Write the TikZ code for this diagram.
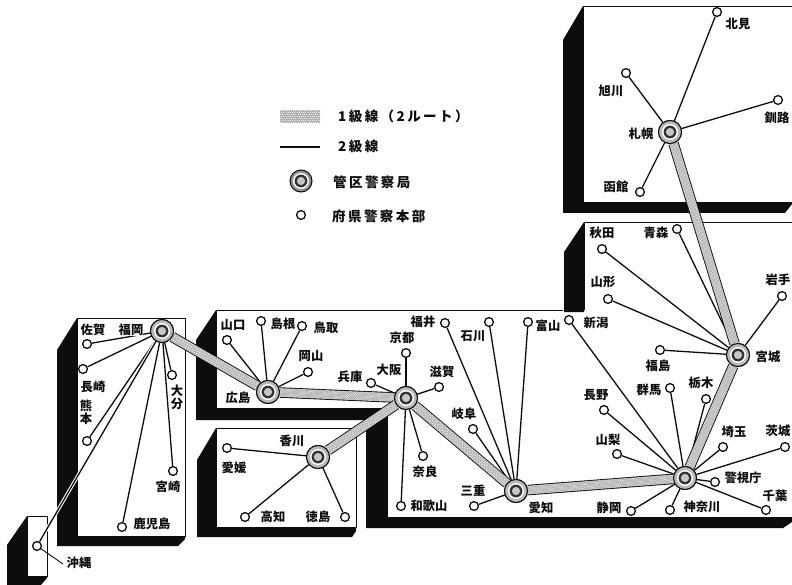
\documentclass[tikz,border=0pt]{standalone}
\usepackage{fontspec}
\setmainfont{Noto Sans CJK JP}
\newfontfamily\legendfont[LetterSpace=18]{Noto Sans CJK JP}
\usetikzlibrary{calc}
\definecolor{ink}{gray}{0.05}
\newcommand{\stipplelink}[3]{%
  \foreach \off/\ph in {-3.6/0,-2.4/1.1,-1.2/0,0/1.1,1.2/0,2.4/1.1,3.6/0}{
    \draw[white!85!gray,line width=0.7bp,dash pattern=on 0.9bp off 1.3bp,dash phase=\ph bp]
      ($(#1)!\off*#3 bp!90:(#2)$) -- ($(#2)!\off*#3 bp!-90:(#1)$);
  }}
\tikzset{
  stn/.style={circle,draw=ink,line width=1.3bp,fill=white,minimum size=8.8bp,inner sep=0pt},
  hub/.style={circle,draw=ink,line width=1bp,fill=gray!55,minimum size=23bp,inner sep=0pt,
    path picture={
      \fill[white] (path picture bounding box.center) circle (8bp);
      \fill[ink!85!white] (path picture bounding box.center) circle (6.4bp);
      \fill[gray!45] (path picture bounding box.center) circle (4.1bp);
    }},
  lab/.style={inner sep=0pt,font=\fontsize{12.3bp}{13bp}\selectfont\bfseries,text=ink,align=center},
  leg/.style={inner sep=0pt,anchor=west,font=\fontsize{13.5bp}{14bp}\selectfont\legendfont\bfseries,text=ink},
  thin link/.style={draw=ink,line width=1.3bp},
  trunkedge/.style={draw=ink,line width=10.5bp},
  trunkfill/.style={draw=gray!60,line width=8.8bp},
  shade/.style={fill=ink,draw=none},
  panel/.style={fill=white,draw=ink,line width=0.9bp}
}
\begin{document}
\begin{tikzpicture}[x=1bp,y=-1bp]
\useasboundingbox (0,0) rectangle (792,585);
\clip (0,0) rectangle (792,585);
\fill[white] (0,0) rectangle (792,585);
% Hokkaido
\fill[shade] (583,6) -- (563,40) -- (563,213) -- (785,213) -- (792,204) -- (792,202) -- (583,202) -- cycle;
\draw[panel] (792,6) -- (583,6) -- (583,202) -- (792,202);
% Honshu
\fill[shade] (584,222) -- (564,252) -- (564,312) -- (584,312) -- cycle;
\fill[shade] (216,310) -- (196,340) -- (196,420) -- (366,420) -- (366,528) -- (783,528) -- (792,522) -- (792,517) -- (387,517) -- (387,408) -- (216,408) -- cycle;
\draw[panel,fill=none] (792,222) -- (584,222) -- (584,310);
\draw[panel,fill=none] (563,310) -- (216,310) -- (216,408) -- (387,408) -- (387,517) -- (792,517);
% Shikoku
\fill[shade] (216,428) -- (197,460) -- (197,537) -- (352,537) -- (356,531) -- (356,527) -- (216,527) -- cycle;
\draw[panel] (216,428) rectangle (356,527);
% Kyushu
\fill[shade] (77,318) -- (57,350) -- (57,546) -- (178,546) -- (185,539) -- (185,536) -- (77,536) -- cycle;
\draw[panel] (77,318) rectangle (185,536);
% Okinawa
\fill[shade] (27,516) -- (7,545) -- (7,585) -- (41,585) -- (47,578) -- (47,576) -- (27,576) -- cycle;
\draw[panel] (27,516) rectangle (47,576);
% hubs
\foreach \n/\x/\y in {fukuoka/162/331,hiroshima/268/392,kagawa/318/457,osaka/406/398,aichi/516/491,tokyo/685/478,miyagi/738/355,sapporo/670/132}
  \node[hub] (\n) at (\x,\y) {};
% prefectures
\foreach \n/\x/\y in {kitami/717/12,asahikawa/626/73,kushiro/778/100,hakodate/640/192,
  aomori/677/229,akita/602/249,yamagata/608/299,iwate/782/296,fukushima/660/350,
  niigata/569/320,nagano/604/410,gunma/670/388,tochigi/706/399,yamanashi/617/454,saitama/723/447,ibaraki/785/447,keishicho/715/482,chiba/766/510,kanagawa/670/510,shizuoka/631/511,
  fukui/445/323,ishikawa/489/322,toyama/528/322,gifu/473/429,mie/474/506,
  kyoto/406/353,hyogo/371/383,shiga/439/387,nara/423/456,wakayama/401/506,
  yamaguchi/227/340,shimane/261/321,tottori/302/326,okayama/308/372,
  ehime/227/448,kochi/245/517,tokushima/345/517,
  saga/87/344,nagasaki/83/369,kumamoto/87/441,oita/172/375,miyazaki/173/471,kagoshima/122/527,okinawa/37/546}
  \node[stn] (\n) at (\x,\y) {};
\coordinate (okinawaend) at (63,564);
% grade 2 links
\foreach \h/\list in {sapporo/{kitami,asahikawa,kushiro,hakodate},
  miyagi/{aomori,akita,yamagata,iwate,fukushima},
  tokyo/{niigata,nagano,gunma,tochigi,yamanashi,saitama,ibaraki,keishicho,chiba,kanagawa,shizuoka},
  aichi/{fukui,ishikawa,toyama,gifu,mie},
  osaka/{kyoto,hyogo,shiga,nara,wakayama},
  hiroshima/{yamaguchi,shimane,tottori,okayama},
  kagawa/{ehime,kochi,tokushima},
  fukuoka/{saga,nagasaki,kumamoto,oita,miyazaki,kagoshima}}
  \foreach \p in \list \draw[thin link] (\h) -- (\p);
\draw[white,line width=3.4bp] (fukuoka) -- (okinawa);
\draw[thin link] (fukuoka) -- (okinawa);
\draw[thin link,line width=0.9bp] (okinawa) -- (okinawaend);
% grade 1 links
\foreach \a/\b in {fukuoka/hiroshima,hiroshima/osaka,kagawa/osaka,osaka/aichi,aichi/tokyo,tokyo/miyagi,miyagi/sapporo}{
  \draw[trunkedge] (\a) -- (\b);
  \draw[trunkfill] (\a) -- (\b);
  \stipplelink{\a}{\b}{1}
}
% redraw hubs on top
\foreach \n/\x/\y in {fukuoka/162/331,hiroshima/268/392,kagawa/318/457,osaka/406/398,aichi/516/491,tokyo/685/478,miyagi/738/355,sapporo/670/132}
  \node[hub] (top\n) at (\x,\y) {};
% labels
\foreach \n/\x/\y/\t in {a/93/330/佐賀,c/93/387/長崎,d/168/487/宮崎,e/152/524/鹿児島,f/79/563/沖縄,
  g/233/325/山口,h/283/324/島根,i/326/328/鳥取,j/311/356/岡山,k/350/377/兵庫,l/238/398/広島,
  m/292/441/香川,n/234/468/愛媛,o/273/517/高知,p/318/517/徳島,
  q/423/322/福井,r/402/338/京都,s/389/370/大阪,t/442/372/滋賀,u/473/336/石川,v/548/326/富山,w/596/323/新潟,x/464/414/岐阜,
  y/425/472/奈良,z/429/506/和歌山,aa/473/491/三重,ab/541/508/愛知,ac/609/508/静岡,ad/702/507/神奈川,ae/775/496/千葉,af/743/478/警視庁,
  ag/608/440/山梨,ah/596/395/長野,ai/649/390/群馬,aj/701/383/栃木,ak/734/432/埼玉,al/778/431/茨城,am/658/366/福島,an/768/357/宮城,
  ao/738/24/北見,ap/611/91/旭川,aq/777/118/釧路,ar/641/134/札幌,as/616/187/函館,at/602/233/秋田,au/656/233/青森,av/603/282/山形,aw/778/280/岩手}
  \node[lab] (lab\n) at (\x,\y) {\t};
\node[lab,fill=white] (labb) at (131,330) {福岡};
\node[lab] (labkuma) at (86,412) {熊\\本};
\node[lab] (laboita) at (177,397) {大\\分};
% legend
\coordinate (bandL) at (280,116.5);
\coordinate (bandR) at (320,116.5);
\draw[draw=gray!60,line width=13bp] (bandL) -- (bandR);
\stipplelink{bandL}{bandR}{1.6}
\coordinate (lineL) at (280,147);
\coordinate (lineR) at (320,147);
\draw[ink,line width=2bp] (lineL) -- (lineR);
\node[hub,minimum size=22bp,fill=gray!85] (leghub) at (301,181) {};
\node[stn] (legstn) at (301,215) {};
\node[leg] (leg1) at (338,116) {1級線（2ルート）};
\node[leg] (leg2) at (338,146) {2級線};
\node[leg] (leg3) at (333,182) {管区警察局};
\node[leg] (leg4) at (332,216) {府県警察本部};
\end{tikzpicture}
\end{document}
